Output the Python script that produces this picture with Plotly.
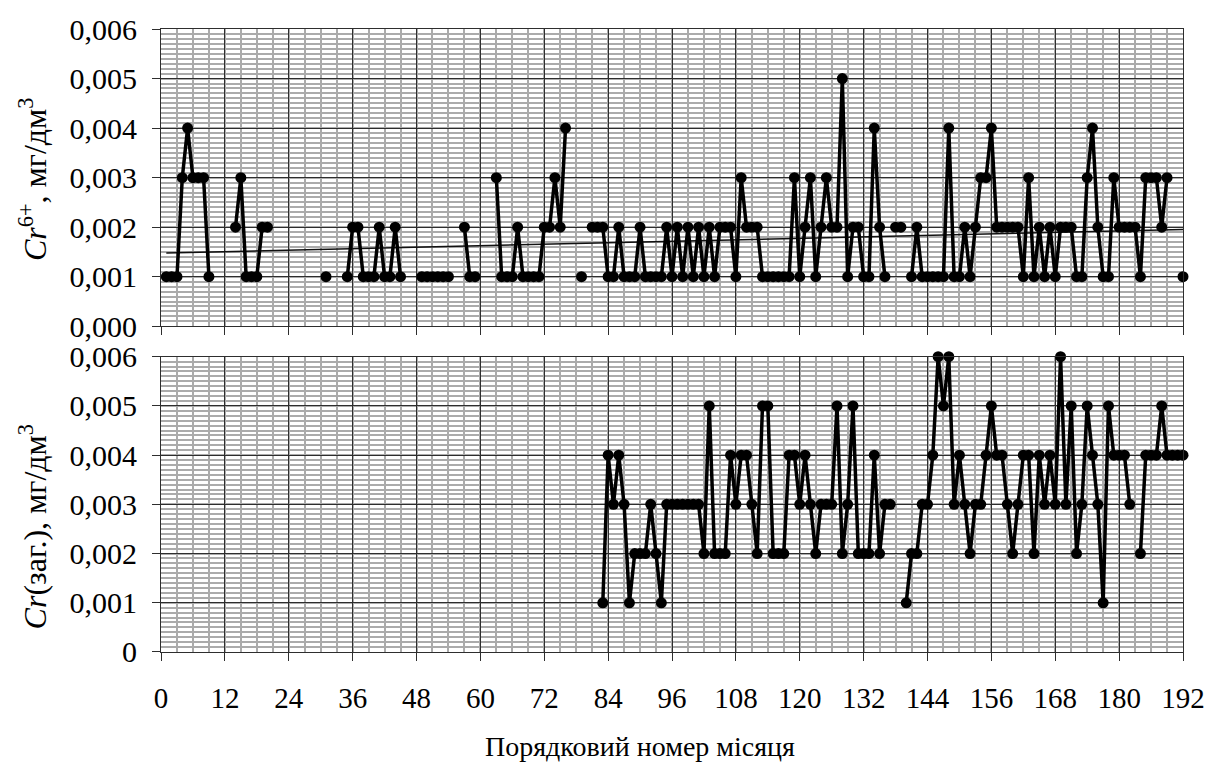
import numpy as np
import plotly.graph_objects as go

N = None

# month index 1..192
months = list(range(1, 193))

# Cr6+ concentration, mg/dm3 (top panel), month 1..192
cr6_values = [
    0.001, 0.001, 0.001, 0.003, 0.004, 0.003, 0.003, 0.003, 0.001, N,        # 1-10
    N, N, N, 0.002, 0.003, 0.001, 0.001, 0.001, 0.002, 0.002,                # 11-20
    N, N, N, N, N, N, N, N, N, N,                                            # 21-30
    0.001, N, N, N, 0.001, 0.002, 0.002, 0.001, 0.001, 0.001,                # 31-40
    0.002, 0.001, 0.001, 0.002, 0.001, N, N, N, 0.001, 0.001,                # 41-50
    0.001, 0.001, 0.001, 0.001, N, N, 0.002, 0.001, 0.001, N,                # 51-60
    N, N, 0.003, 0.001, 0.001, 0.001, 0.002, 0.001, 0.001, 0.001,            # 61-70
    0.001, 0.002, 0.002, 0.003, 0.002, 0.004, N, N, 0.001, N,                # 71-80
    0.002, 0.002, 0.002, 0.001, 0.001, 0.002, 0.001, 0.001, 0.001, 0.002,    # 81-90
    0.001, 0.001, 0.001, 0.001, 0.002, 0.001, 0.002, 0.001, 0.002, 0.001,    # 91-100
    0.002, 0.001, 0.002, 0.001, 0.002, 0.002, 0.002, 0.001, 0.003, 0.002,    # 101-110
    0.002, 0.002, 0.001, 0.001, 0.001, 0.001, 0.001, 0.001, 0.003, 0.001,    # 111-120
    0.002, 0.003, 0.001, 0.002, 0.003, 0.002, 0.002, 0.005, 0.001, 0.002,    # 121-130
    0.002, 0.001, 0.001, 0.004, 0.002, 0.001, N, 0.002, 0.002, N,            # 131-140
    0.001, 0.002, 0.001, 0.001, 0.001, 0.001, 0.001, 0.004, 0.001, 0.001,    # 141-150
    0.002, 0.001, 0.002, 0.003, 0.003, 0.004, 0.002, 0.002, 0.002, 0.002,    # 151-160
    0.002, 0.001, 0.003, 0.001, 0.002, 0.001, 0.002, 0.001, 0.002, 0.002,    # 161-170
    0.002, 0.001, 0.001, 0.003, 0.004, 0.002, 0.001, 0.001, 0.003, 0.002,    # 171-180
    0.002, 0.002, 0.002, 0.001, 0.003, 0.003, 0.003, 0.002, 0.003, N,        # 181-190
    N, 0.001,                                                                # 191-192
]

# total Cr concentration, mg/dm3 (bottom panel), month 1..192
cr_total_values = [N] * 82 + [
    0.001, 0.004, 0.003, 0.004, 0.003, 0.001, 0.002, 0.002,                  # 83-90
    0.002, 0.003, 0.002, 0.001, 0.003, 0.003, 0.003, 0.003, 0.003, 0.003,    # 91-100
    0.003, 0.002, 0.005, 0.002, 0.002, 0.002, 0.004, 0.003, 0.004, 0.004,    # 101-110
    0.003, 0.002, 0.005, 0.005, 0.002, 0.002, 0.002, 0.004, 0.004, 0.003,    # 111-120
    0.004, 0.003, 0.002, 0.003, 0.003, 0.003, 0.005, 0.002, 0.003, 0.005,    # 121-130
    0.002, 0.002, 0.002, 0.004, 0.002, 0.003, 0.003, N, N, 0.001,            # 131-140
    0.002, 0.002, 0.003, 0.003, 0.004, 0.006, 0.005, 0.006, 0.003, 0.004,    # 141-150
    0.003, 0.002, 0.003, 0.003, 0.004, 0.005, 0.004, 0.004, 0.003, 0.002,    # 151-160
    0.003, 0.004, 0.004, 0.002, 0.004, 0.003, 0.004, 0.003, 0.006, 0.003,    # 161-170
    0.005, 0.002, 0.003, 0.005, 0.004, 0.003, 0.001, 0.005, 0.004, 0.004,    # 171-180
    0.004, 0.003, N, 0.002, 0.004, 0.004, 0.004, 0.005, 0.004, 0.004,        # 181-190
    0.004, 0.004,                                                            # 191-192
]

x_tickvals = list(range(0, 193, 12))
x_ticktext = [str(v) for v in x_tickvals]
y_tickvals = [0.0, 0.001, 0.002, 0.003, 0.004, 0.005, 0.006]
top_y_ticktext = ["0,000", "0,001", "0,002", "0,003", "0,004", "0,005", "0,006"]
bottom_y_ticktext = ["0", "0,001", "0,002", "0,003", "0,004", "0,005", "0,006"]

top_title = "<i>Cr</i><sup>6+</sup>, мг/дм<sup>3</sup>"
bottom_title = "<i>Cr</i>(заг.), мг/дм<sup>3</sup>"
x_title = "Порядковий номер місяця"

# linear trend of Cr6+ (least squares over available months)
valid = [(m, v) for m, v in zip(months, cr6_values) if v is not None]
vm = np.array([p[0] for p in valid], dtype=float)
vv = np.array([p[1] for p in valid], dtype=float)
slope, intercept = np.polyfit(vm, vv, 1)
trend_x = [months[0], months[-1]]
trend_y = [intercept + slope * t for t in trend_x]

FONT = "Liberation Serif, Times New Roman, serif"
MAJOR = "#2e2e2e"
MINOR = "#ababab"

fig = go.Figure()

fig.add_trace(go.Scatter(
    x=trend_x, y=trend_y, xaxis="x2", yaxis="y2", mode="lines",
    line=dict(color="#111111", width=1.5), hoverinfo="skip", showlegend=False))

fig.add_trace(go.Scatter(
    x=months, y=cr6_values, xaxis="x2", yaxis="y2", mode="lines+markers",
    line=dict(color="black", width=3.5), marker=dict(color="black", size=11),
    connectgaps=False, cliponaxis=False, showlegend=False))

fig.add_trace(go.Scatter(
    x=months, y=cr_total_values, xaxis="x", yaxis="y", mode="lines+markers",
    line=dict(color="black", width=3.5), marker=dict(color="black", size=11),
    connectgaps=False, cliponaxis=False, showlegend=False))

common_x = dict(
    range=[0, 192], tickmode="array", tickvals=x_tickvals, ticktext=x_ticktext,
    showgrid=True, gridcolor=MAJOR, gridwidth=1, zeroline=False,
    minor=dict(tickmode="linear", tick0=0, dtick=3, showgrid=True,
               gridcolor=MINOR, gridwidth=1.5, ticks=""),
    ticks="outside", ticklen=8, tickwidth=1, tickcolor=MAJOR,
    showline=True, mirror=True, linecolor=MAJOR, linewidth=1,
    tickfont=dict(family=FONT, size=29, color="black"),
)
common_y = dict(
    range=[0, 0.006], tickmode="array", tickvals=y_tickvals,
    showgrid=True, gridcolor=MAJOR, gridwidth=1, zeroline=False,
    minor=dict(tickmode="linear", tick0=0, dtick=0.0001, showgrid=True,
               gridcolor=MINOR, gridwidth=1.5, ticks=""),
    ticks="outside", ticklen=8, tickwidth=1, tickcolor=MAJOR,
    showline=True, mirror=True, linecolor=MAJOR, linewidth=1,
    tickfont=dict(family=FONT, size=30, color="black"),
    ticklabelstandoff=9,
)

plot_h = 770 - 17 - 118
fig.update_layout(
    width=1218, height=770,
    margin=dict(l=161, r=35, t=17, b=118),
    paper_bgcolor="white", plot_bgcolor="white",
    xaxis=dict(common_x, anchor="y", ticklabelstandoff=12),
    xaxis2=dict(common_x, anchor="y2", matches="x", showticklabels=False),
    yaxis=dict(common_y, domain=[0, 301 / plot_h], anchor="x", ticktext=bottom_y_ticktext),
    yaxis2=dict(common_y, domain=[(plot_h - 303) / plot_h, 1], anchor="x2", ticktext=top_y_ticktext),
    annotations=[
        dict(text=top_title, xref="paper", yref="paper", x=(33 - 161) / 1022,
             y=(652 - 170) / plot_h, textangle=-90, showarrow=False,
             xanchor="center", yanchor="middle",
             font=dict(family=FONT, size=32, color="black")),
        dict(text=bottom_title, xref="paper", yref="paper", x=(33 - 161) / 1022,
             y=(652 - 525) / plot_h, textangle=-90, showarrow=False,
             xanchor="center", yanchor="middle",
             font=dict(family=FONT, size=32, color="black")),
        dict(text=x_title, xref="paper", yref="paper", x=(640 - 161) / 1022,
             y=(652 - 748) / plot_h, showarrow=False,
             xanchor="center", yanchor="middle",
             font=dict(family=FONT, size=28, color="black")),
    ],
)

fig.write_html("out.html")
